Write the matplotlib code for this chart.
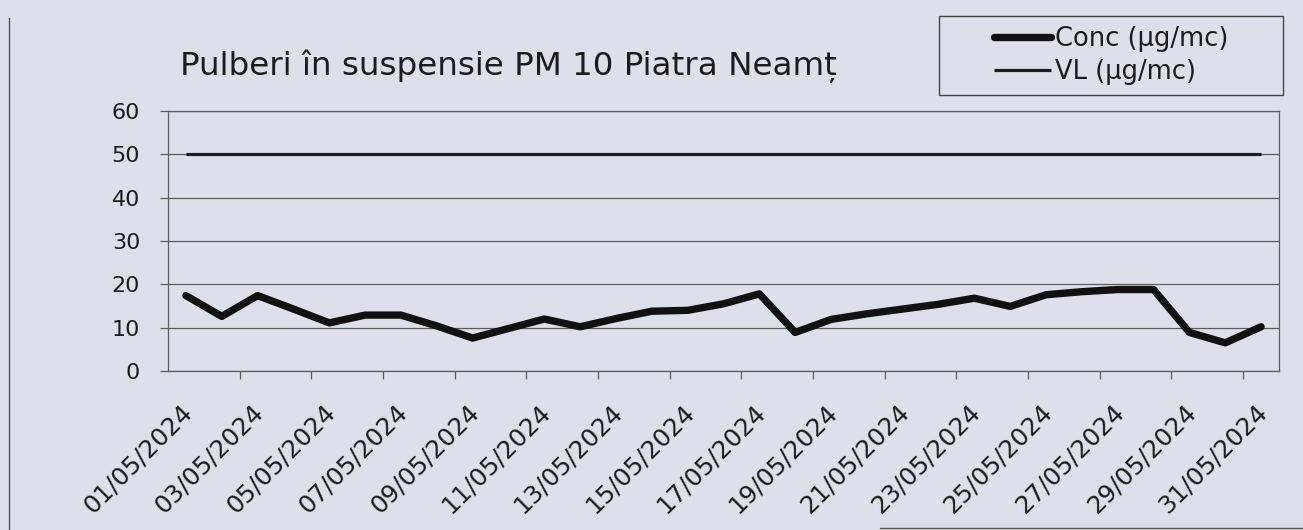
import matplotlib
matplotlib.use('Agg')
import matplotlib.pyplot as plt
import matplotlib.transforms as mtransforms
from matplotlib.lines import Line2D
from matplotlib.patches import Rectangle
import numpy as np

# data (PM10, Piatra Neamt, May 2024)
dates = [f'{d:02d}/05/2024' for d in range(1, 32)]
conc = [17.4, 12.6, 17.4, 14.3, 11.1, 12.9, 12.9, 10.4, 7.6, 9.8,
        12.0, 10.2, 12.1, 13.8, 14.0, 15.5, 17.8, 8.9, 11.9, 13.2,
        14.3, 15.4, 16.8, 14.9, 17.6, 18.3, 18.8, 18.8, 8.9, 6.5, 10.2]
vl = [50] * 31
y_ticks = [0, 10, 20, 30, 40, 50, 60]

title = 'Pulberi în suspensie PM 10 Piatra Neamț'
conc_label = 'Conc (µg/mc)'
vl_label = 'VL (µg/mc)'

bg = '#dddfea'
ink = '#1c1c1c'
gridc = '#5c5c5c'

plt.rcParams['font.family'] = ['DejaVu Sans']

fig = plt.figure(figsize=(13.03, 5.30), dpi=100, facecolor=bg)
ax = fig.add_axes([168 / 1303, 1 - 371 / 530, 1111 / 1303, 260 / 530])
ax.set_facecolor(bg)

x = np.arange(len(dates))
ax.plot(x, vl, color=ink, lw=2.3, solid_capstyle='butt', label=vl_label)
ax.plot(x, conc, color='#111111', lw=5.3, solid_capstyle='round',
        label=conc_label)

ax.set_xlim(-0.5, len(dates) - 0.5)
ax.set_ylim(0, 60)
ax.set_yticks(y_ticks)
ax.grid(axis='y', color=gridc, lw=0.9)
ax.set_axisbelow(True)

ax.set_xticks(x[::2])
ax.set_xticklabels(dates[::2], rotation=45, ha='right',
                   rotation_mode='anchor', color=ink)
ax.set_xticks(np.arange(1.5, len(dates) - 1, 2), minor=True)
ax.tick_params(axis='x', which='major', length=0, pad=21, labelsize=17.8)
ax.tick_params(axis='x', which='minor', length=6, direction='out',
               color=gridc, width=0.9)
ax.tick_params(axis='y', length=6, width=0.9, color=gridc, pad=14,
               labelsize=16, labelcolor=ink)

# nudge the rotated date labels a little to the left
shift = mtransforms.ScaledTranslation(-0.06, 0, fig.dpi_scale_trans)
for lab in ax.get_xticklabels():
    lab.set_transform(lab.get_transform() + shift)

for s in ax.spines.values():
    s.set_color(gridc)
    s.set_linewidth(0.9)

fig.text(180 / 1303, 1 - 75 / 530, title, fontsize=23.4, color=ink,
         va='baseline', ha='left')

# legend box
lx0, lx1, ly0, ly1 = 939, 1283, 16, 95
fig.add_artist(Rectangle((lx0 / 1303, 1 - ly1 / 530),
                         (lx1 - lx0) / 1303, (ly1 - ly0) / 530,
                         transform=fig.transFigure, fill=False,
                         edgecolor='#444444', lw=1))
handles, labels = ax.get_legend_handles_labels()
leg = fig.legend(handles[::-1], labels[::-1], loc='center',
                 bbox_to_anchor=((lx0 + lx1) / 2 / 1303,
                                 1 - (ly0 + ly1) / 2 / 530),
                 frameon=False, fontsize=18.5, handlelength=2.2,
                 handletextpad=0.15, labelspacing=0.25, borderpad=0)
for t in leg.get_texts():
    t.set_color(ink)

# outer chart border (partially visible in the scan)
fig.add_artist(Line2D([9 / 1303, 9 / 1303], [0, 1 - 18 / 530],
                      transform=fig.transFigure, color='#555555', lw=1))
fig.add_artist(Line2D([880 / 1303, 1], [1 - 528 / 530, 1 - 528 / 530],
                      transform=fig.transFigure, color='#555555', lw=1))

fig.savefig('out.png', dpi=100, facecolor=bg)
